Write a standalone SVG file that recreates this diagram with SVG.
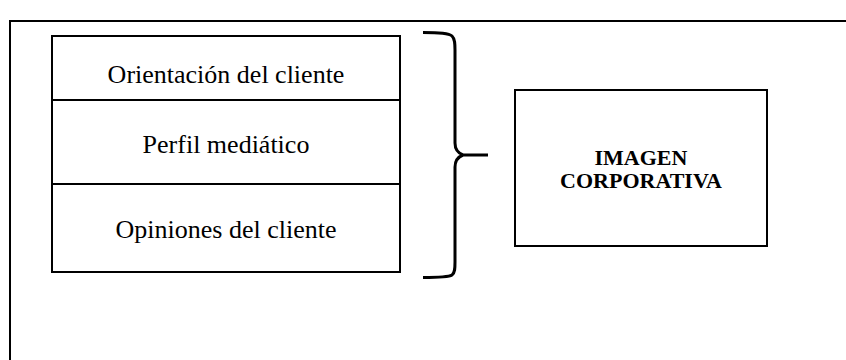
<svg xmlns="http://www.w3.org/2000/svg" width="846" height="360" viewBox="0 0 846 360">
  <style>
    .line { fill: none; stroke: #000; stroke-width: 2; }
    .item { font-family: "Liberation Serif", "Times New Roman", serif; font-size: 26px; fill: #000; text-anchor: middle; }
    .title { font-family: "Liberation Serif", "Times New Roman", serif; font-size: 22px; font-weight: bold; fill: #000; text-anchor: middle; }
  </style>
  <rect x="0" y="0" width="846" height="360" fill="#fff"/>
  <!-- outer frame, continuing past the page edge -->
  <path class="line" d="M10,370 V21 H856"/>

  <g id="factors">
    <rect class="line" x="52" y="36" width="348" height="236"/>
    <line class="line" x1="52" y1="100" x2="400" y2="100"/>
    <line class="line" x1="52" y1="184" x2="400" y2="184"/>
    <text class="item" x="226" y="83">Orientación del cliente</text>
    <text class="item" x="226" y="153">Perfil mediático</text>
    <text class="item" x="226" y="238">Opiniones del cliente</text>
  </g>

  <g id="connectors">
    <!-- curly brace grouping the three factors -->
    <path d="M423,32.5 C440,32.5 449,33 452,36 C455,39 455,44 455,50 V143 C455,150 458,153 463,155 H488 M463,155 C458,157 455,160 455,167 V262 C455,268 455,273 452,275 C449,277 440,277.5 423,277.5" fill="none" stroke="#000" stroke-width="3"/>
  </g>

  <g id="imagen-corporativa">
    <rect class="line" x="515" y="90" width="252" height="156"/>
    <text class="title" x="641" y="165">IMAGEN</text>
    <text class="title" x="641" y="188">CORPORATIVA</text>
  </g>
</svg>
